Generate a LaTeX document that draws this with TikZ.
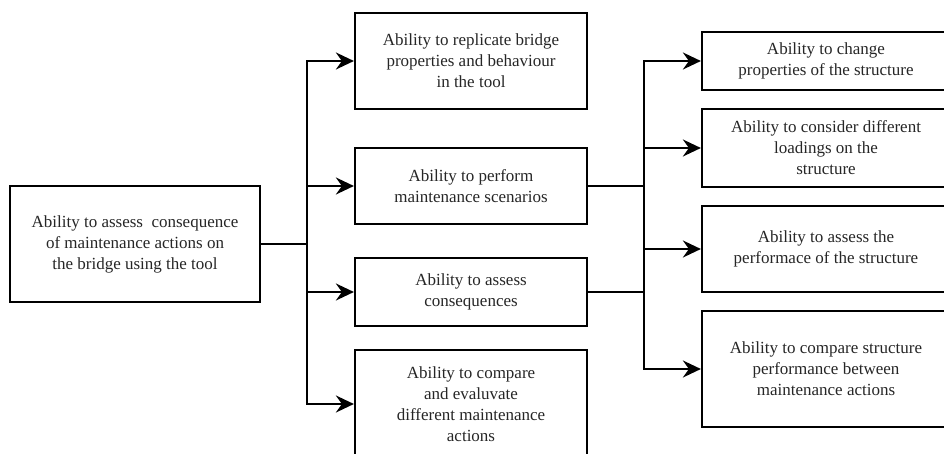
\documentclass[tikz,border=0pt]{standalone}
\usepackage{fontspec}
\setmainfont{Liberation Serif}
\usetikzlibrary{arrows.meta}
\begin{document}
\begin{tikzpicture}[x=1pt,y=-1pt,
  box/.style={draw, line width=2.2pt, rectangle, align=center, inner sep=0pt,
    font=\fontsize{17}{21}\selectfont, text=black!85},
  link/.style={line width=2.2pt, line cap=rect},
  arr/.style={line width=2.2pt, -{Stealth[length=18pt,width=17pt,inset=6pt]}}]
\useasboundingbox (0,0) rectangle (944,454);
% root goal
\node[box, minimum width=250pt, minimum height=116pt] (L) at (135,244)
  {Ability to assess\ \ consequence\\of maintenance actions on\\the bridge using the tool};
% second level
\node[box, minimum width=232pt, minimum height=96pt] (M1) at (471,61)
  {Ability to replicate bridge\\properties and behaviour\\in the tool};
\node[box, minimum width=232pt, minimum height=76pt] (M2) at (471,186)
  {Ability to perform\\maintenance scenarios};
\node[box, minimum width=232pt, minimum height=68pt] (M3) at (471,292)
  {Ability to assess\\consequences};
\node[box, minimum width=232pt, minimum height=108pt] (M4) at (471,404)
  {Ability to compare\\and evaluvate\\different maintenance\\actions};
% third level
\node[box, minimum width=248pt, minimum height=58pt] (R1) at (826,61)
  {Ability to change\\properties of the structure};
\node[box, minimum width=248pt, minimum height=78pt] (R2) at (826,148)
  {Ability to consider different\\loadings on the\\structure};
\node[box, minimum width=248pt, minimum height=86pt] (R3) at (826,249)
  {Ability to assess the\\performace of the structure};
\node[box, minimum width=248pt, minimum height=116pt] (R4) at (826,369)
  {Ability to compare structure\\performance between\\maintenance actions};
% branch points
\coordinate (ja) at (307,244);
\coordinate (jb) at (644,186);
\coordinate (jc) at (644,292);
% first fan-out: root to second level
\draw[link] (L.east) -- (ja);
\draw[link] (ja |- M1.west) -- (ja |- M4.west);
\foreach \n in {M1,M2,M3,M4}
  \draw[arr] (ja |- \n.west) -- (\n.west);
% second fan-out: scenarios and consequences to third level
\draw[link] (M2.east) -- (jb);
\draw[link] (M3.east) -- (jc);
\draw[link] (jb |- R1.west) -- (jb |- R4.west);
\foreach \n in {R1,R2,R3,R4}
  \draw[arr] (jb |- \n.west) -- (\n.west);
\end{tikzpicture}
\end{document}
